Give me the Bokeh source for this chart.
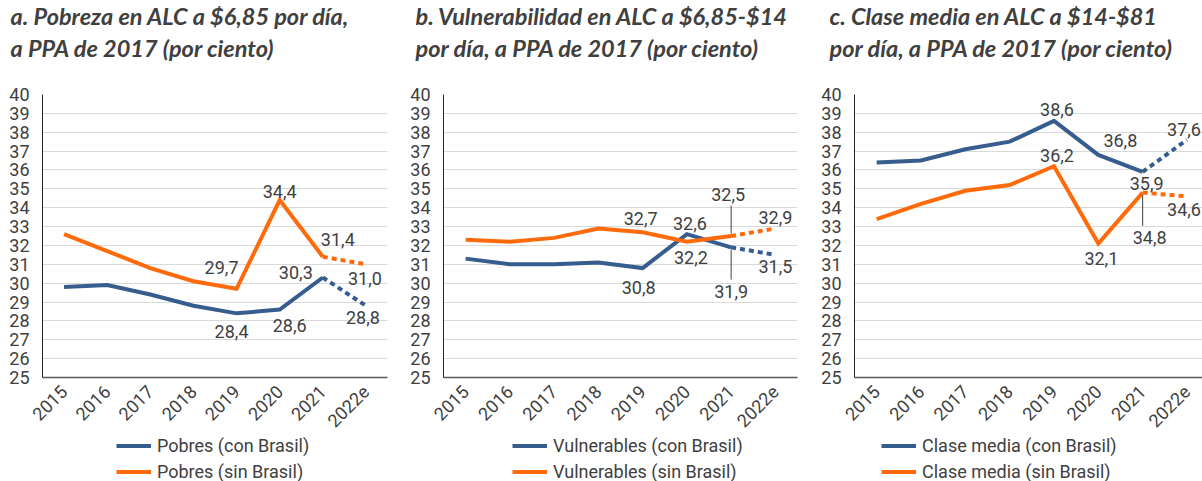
from bokeh.plotting import figure
from bokeh.layouts import row, column
from bokeh.models import (Range1d, FixedTicker, Legend, LegendItem, ColumnDataSource)
from bokeh.core.properties import value
from bokeh.embed import file_html
from bokeh.resources import INLINE
import math

years = ["2015", "2016", "2017", "2018", "2019", "2020", "2021", "2022e"]

# Panel a: Pobreza
pob_con = [29.8, 29.9, 29.4, 28.8, 28.4, 28.6, 30.3, 28.8]
pob_sin = [32.6, 31.7, 30.8, 30.1, 29.7, 34.4, 31.4, 31.0]
# Panel b: Vulnerabilidad
vul_con = [31.3, 31.0, 31.0, 31.1, 30.8, 32.6, 31.9, 31.5]
vul_sin = [32.3, 32.2, 32.4, 32.9, 32.7, 32.2, 32.5, 32.9]
# Panel c: Clase media
cm_con = [36.4, 36.5, 37.1, 37.5, 38.6, 36.8, 35.9, 37.6]
cm_sin = [33.4, 34.2, 34.9, 35.2, 36.2, 32.1, 34.8, 34.6]

titles = ["a. Pobreza en ALC a $6,85 por día,\na PPA de 2017 (por ciento)",
          "b. Vulnerabilidad en ALC a $6,85-$14\npor día, a PPA de 2017 (por ciento)",
          "c. Clase media en ALC a $14-$81\npor día, a PPA de 2017 (por ciento)"]
legend_names = [("Pobres (con Brasil)", "Pobres (sin Brasil)"),
                ("Vulnerables (con Brasil)", "Vulnerables (sin Brasil)"),
                ("Clase media (con Brasil)", "Clase media (sin Brasil)")]

# which points get a label: (series 0=con/1=sin, year index, dx px, dy px, leader)
label_specs = [
    [(1, 5, 0, -9, False), (1, 6, 15, -17, False), (1, 7, -1, 14, False), (1, 4, -15, -21, False),
     (0, 6, -27, -5, False), (0, 4, -5, 18, False), (0, 5, 10, 16, False), (0, 7, -3, 12, False)],
    [(1, 4, -2, -14, False), (0, 5, 3, -11, False), (1, 5, 4, 16, False), (1, 6, -3, -42, True),
     (0, 6, 0, 44, True), (1, 7, 0, -11, False), (0, 7, 0, 12, False), (0, 4, -4, 19, False)],
    [(0, 4, 3, -11, False), (0, 5, 22, -14, False), (0, 7, -3, -10, False), (0, 6, 4, 12, False),
     (1, 4, 3, -11, False), (1, 5, 3, 15, False), (1, 6, 7, 45, True), (1, 7, -3, 13, False)],
]

BLUE = "#365D8E"
ORANGE = "#FF6A0A"
TXT = "#404040"
FONT = "Roboto"
FS = "18px"

widths = [407, 411, 384]
left_borders = [42, 34, 34]
right_borders = [20, 21, 0]
x_ends = [7.5, 7.5, 7.35]
title_offsets = [-32, -28, -25]
legend_x = [74, 69, 27]
TOP = 88
FRAME_H = 289
H_MAIN = 436
H_LEG = 45
PX_PER_UNIT = FRAME_H / 15.0

def fmt(v):
    return ("%.1f" % v).replace(".", ",")

cols = []
for k, (con, sin) in enumerate([(pob_con, pob_sin), (vul_con, vul_sin), (cm_con, cm_sin)]):
    p = figure(width=widths[k], height=H_MAIN, output_backend="svg", toolbar_location=None,
               x_range=Range1d(-0.5, x_ends[k]), y_range=Range1d(25, 40),
               min_border_left=left_borders[k], min_border_right=right_borders[k],
               min_border_top=TOP, min_border_bottom=H_MAIN - TOP - FRAME_H)
    # a blank third line keeps the two title lines clear of the plot area
    p.title.text = titles[k] + "\n "
    p.title.text_font = "Lato"
    p.title.text_font_style = "bold italic"
    p.title.text_font_size = "23.5px"
    p.title.text_line_height = 1.15
    p.title.text_color = TXT
    p.title.offset = title_offsets[k]
    p.title.standoff = 0
    p.outline_line_color = None
    p.background_fill_color = "white"
    p.border_fill_color = "white"

    idx = list(range(len(years)))
    p.xaxis.ticker = FixedTicker(ticks=idx)
    p.xaxis.major_label_overrides = {i: y for i, y in enumerate(years)}
    p.xaxis.major_label_orientation = math.pi / 4
    p.xaxis.major_tick_line_color = None
    p.xaxis.minor_tick_line_color = None
    p.xaxis.axis_line_color = "#595959"
    p.xaxis.axis_line_width = 1.5
    p.xaxis.major_label_standoff = 5

    p.yaxis.ticker = FixedTicker(ticks=list(range(25, 41)))
    p.yaxis.major_tick_line_color = None
    p.yaxis.minor_tick_line_color = None
    p.yaxis.axis_line_color = "#262626"
    p.yaxis.axis_line_width = 1
    p.yaxis.major_label_standoff = 7
    for ax in (p.xaxis, p.yaxis):
        ax.major_label_text_font = FONT
        ax.major_label_text_font_size = FS
        ax.major_label_text_color = TXT

    p.xgrid.grid_line_color = None
    p.ygrid.grid_line_color = "#D9D9D9"
    p.ygrid.grid_line_width = 1
    p.ygrid.ticker = FixedTicker(ticks=list(range(26, 41)))

    p.line(idx[:7], con[:7], line_color=BLUE, line_width=4, line_join="miter")
    p.line(idx[6:], con[6:], line_color=BLUE, line_width=4, line_dash="5 4")
    p.line(idx[:7], sin[:7], line_color=ORANGE, line_width=4, line_join="miter")
    p.line(idx[6:], sin[6:], line_color=ORANGE, line_width=4, line_dash="5 4")

    xs, ys, txts, dxs, dys = [], [], [], [], []
    for (s, i, dx, dy, leader) in label_specs[k]:
        v = (con if s == 0 else sin)[i]
        xs.append(i); ys.append(v); txts.append(fmt(v)); dxs.append(dx); dys.append(dy)
        if leader:
            sign = -1 if dy < 0 else 1
            y_near = v - sign * 2.5 / PX_PER_UNIT
            y_far = v - sign * (abs(dy) - 11) / PX_PER_UNIT
            p.segment(x0=i, y0=y_near, x1=i, y1=y_far, line_color=TXT, line_width=1)
    src = ColumnDataSource(dict(x=xs, y=ys, t=txts, dx=dxs, dy=dys))
    p.text(x="x", y="y", text="t", x_offset="dx", y_offset="dy", source=src,
           text_font=value(FONT), text_font_size=FS, text_color=TXT,
           text_align="center", text_baseline="middle")

    # legend strip below the chart (same borders so frames align)
    lf = figure(width=widths[k], height=H_LEG, output_backend="svg", toolbar_location=None,
                x_axis_location=None, y_axis_location=None,
                x_range=Range1d(0, 1), y_range=Range1d(0, 1),
                min_border_left=left_borders[k], min_border_right=right_borders[k],
                min_border_top=0, min_border_bottom=0)
    lf.outline_line_color = None
    lf.xgrid.visible = False
    lf.ygrid.visible = False
    # swatch renderers kept outside the visible range
    lc = lf.line(x=[5, 6], y=[5, 6], line_color=BLUE, line_width=4)
    ls = lf.line(x=[5, 6], y=[5, 6], line_color=ORANGE, line_width=4)
    leg = Legend(items=[LegendItem(label=legend_names[k][0], renderers=[lc]),
                        LegendItem(label=legend_names[k][1], renderers=[ls])],
                 location=(legend_x[k], -2), orientation="vertical",
                 label_text_font=FONT, label_text_font_size=FS, label_text_color=TXT,
                 glyph_width=35, glyph_height=23, label_height=23, spacing=3,
                 padding=0, margin=0, label_standoff=6,
                 border_line_color=None, background_fill_alpha=0)
    lf.add_layout(leg, "center")
    cols.append(column(p, lf, spacing=0))

layout = row(*cols, spacing=0)
open("out.html", "w").write(file_html(layout, INLINE))
